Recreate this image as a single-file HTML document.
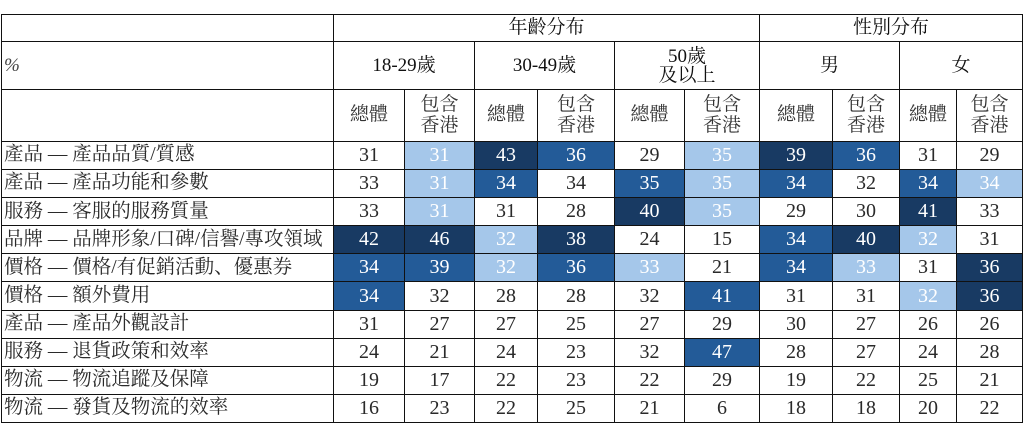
<!DOCTYPE html>
<html><head><meta charset="utf-8"><style>
html,body{margin:0;padding:0;background:#fff;width:1024px;height:433px;overflow:hidden}
table{position:absolute;left:1px;top:14px;border-collapse:collapse;table-layout:fixed;font-family:"Liberation Serif","Noto Serif CJK SC","Noto Serif CJK TC",serif;color:#2a2a2a}
td{border:1.5px solid #111;padding:0;text-align:center;font-size:20px;line-height:1.05;overflow:hidden;white-space:nowrap}
.h td{font-size:19px;color:#111}
.lab{text-align:left;padding-left:2px;font-size:19.5px;letter-spacing:0}
.d{background:#183a63;color:#fff}
.m{background:#235b98;color:#fff}
.l{background:#a5c7ea;color:#fff}
tr.r{height:28.1px}
.sub{font-size:19px;line-height:1.1;color:#333}
</style></head><body>
<table>
<colgroup><col style="width:332px"><col style="width:71px"><col style="width:70px"><col style="width:63px"><col style="width:77px"><col style="width:70px"><col style="width:75px"><col style="width:73px"><col style="width:67px"><col style="width:57px"><col style="width:66px"></colgroup>
<tr class="h" style="height:27px"><td></td><td colspan="6">年齡分布</td><td colspan="4">性別分布</td></tr>
<tr class="h" style="height:48px"><td class="lab" style="font-style:italic;color:#444">%</td><td colspan="2">18-29歲</td><td colspan="2">30-49歲</td><td colspan="2" style="line-height:1.0">50歲<br>及以上</td><td colspan="2">男</td><td colspan="2">女</td></tr>
<tr style="height:52px"><td></td><td class="sub">總體</td><td class="sub">包含<br>香港</td><td class="sub">總體</td><td class="sub">包含<br>香港</td><td class="sub">總體</td><td class="sub">包含<br>香港</td><td class="sub">總體</td><td class="sub">包含<br>香港</td><td class="sub">總體</td><td class="sub">包含<br>香港</td></tr>
<tr class="r"><td class="lab">產品 — 產品品質/質感</td><td>31</td><td class="l">31</td><td class="d">43</td><td class="m">36</td><td>29</td><td class="l">35</td><td class="d">39</td><td class="m">36</td><td>31</td><td>29</td></tr>
<tr class="r"><td class="lab">產品 — 產品功能和參數</td><td>33</td><td class="l">31</td><td class="m">34</td><td>34</td><td class="m">35</td><td class="l">35</td><td class="m">34</td><td>32</td><td class="m">34</td><td class="l">34</td></tr>
<tr class="r"><td class="lab">服務 — 客服的服務質量</td><td>33</td><td class="l">31</td><td>31</td><td>28</td><td class="d">40</td><td class="l">35</td><td>29</td><td>30</td><td class="d">41</td><td>33</td></tr>
<tr class="r"><td class="lab">品牌 — 品牌形象/口碑/信譽/專攻領域</td><td class="d">42</td><td class="d">46</td><td class="l">32</td><td class="d">38</td><td>24</td><td>15</td><td class="m">34</td><td class="d">40</td><td class="l">32</td><td>31</td></tr>
<tr class="r"><td class="lab">價格 — 價格/有促銷活動、優惠券</td><td class="m">34</td><td class="m">39</td><td class="l">32</td><td class="m">36</td><td class="l">33</td><td>21</td><td class="m">34</td><td class="l">33</td><td>31</td><td class="d">36</td></tr>
<tr class="r"><td class="lab">價格 — 額外費用</td><td class="m">34</td><td>32</td><td>28</td><td>28</td><td>32</td><td class="m">41</td><td>31</td><td>31</td><td class="l">32</td><td class="d">36</td></tr>
<tr class="r"><td class="lab">產品 — 產品外觀設計</td><td>31</td><td>27</td><td>27</td><td>25</td><td>27</td><td>29</td><td>30</td><td>27</td><td>26</td><td>26</td></tr>
<tr class="r"><td class="lab">服務 — 退貨政策和效率</td><td>24</td><td>21</td><td>24</td><td>23</td><td>32</td><td class="m">47</td><td>28</td><td>27</td><td>24</td><td>28</td></tr>
<tr class="r"><td class="lab">物流 — 物流追蹤及保障</td><td>19</td><td>17</td><td>22</td><td>23</td><td>22</td><td>29</td><td>19</td><td>22</td><td>25</td><td>21</td></tr>
<tr class="r"><td class="lab">物流 — 發貨及物流的效率</td><td>16</td><td>23</td><td>22</td><td>25</td><td>21</td><td>6</td><td>18</td><td>18</td><td>20</td><td>22</td></tr>
</table>
</body></html>
